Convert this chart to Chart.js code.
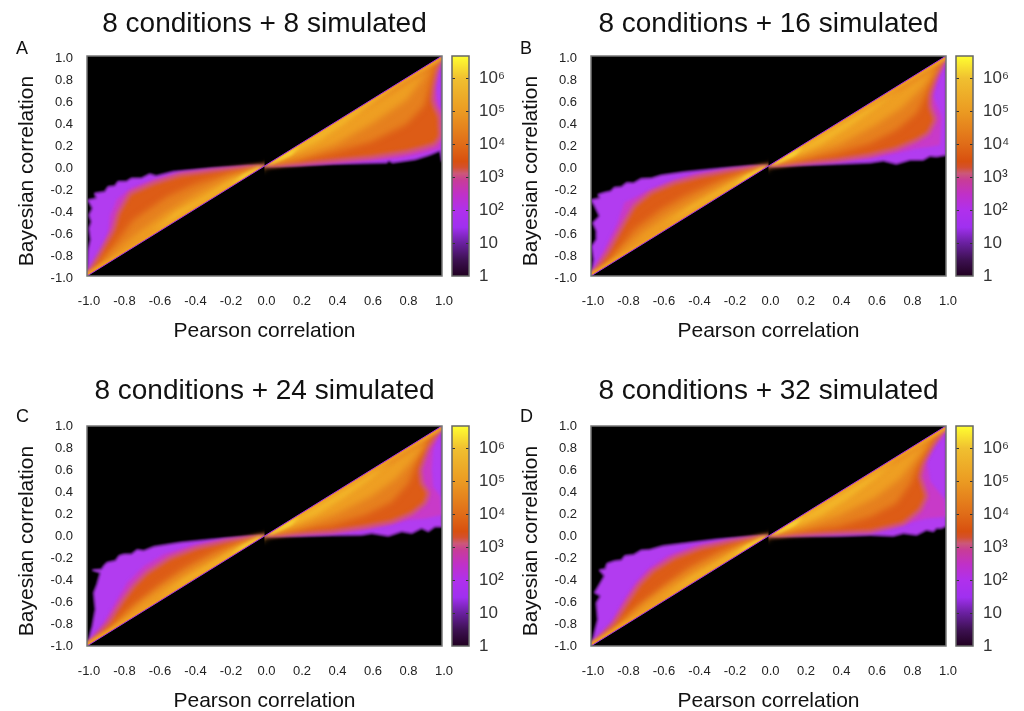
<!DOCTYPE html>
<html>
<head>
<meta charset="utf-8">
<title>Bayesian vs Pearson correlation</title>
<script src="https://cdn.jsdelivr.net/npm/chart.js@4"></script>
<style>
  html, body { margin: 0; padding: 0; background: #fff; overflow: hidden; }
  body { position: relative; width: 1024px; height: 711px; font-family: "Liberation Sans", sans-serif; }
  canvas { position: absolute; }
  .letter { position: absolute; font-size: 18px; color: #111; line-height: 20px; }
</style>
</head>
<body>
<script>
// density contours, [pearson, bayesian] going round each
// band: up the left edge, through the origin, out to the top right corner.
const aPurple = [[-1,-1],[-.993,-.76],[-.98,-.67],[-.989,-.567],[-.976,-.506],[-.989,-.445],[-.97,-.385],[-.985,-.34],[-.996,-.31],[-.947,-.294],[-.957,-.248],[-.9,-.233],[-.882,-.188],[-.844,-.182],[-.826,-.142],[-.779,-.142],[-.75,-.112],[-.694,-.112],[-.647,-.073],[-.61,-.09],[-.516,-.052],[-.288,-.02],[-.1,-.003],[0,0],[.16,.005],[.39,.02],[.55,.025],[.69,.03],[.7,.05],[.72,.03],[.85,.06],[.93,.1],[.99,.14],[1,.04],[1,1]];
const aMagenta = [[-1,-1],[-.92,-.78],[-.88,-.6],[-.87,-.45],[-.83,-.3],[-.75,-.2],[-.62,-.12],[-.48,-.065],[-.29,-.03],[-.1,-.005],[0,0],[.2,.012],[.4,.03],[.6,.05],[.75,.07],[.85,.1],[.93,.13],[.99,.16],[1,.3],[1,.5],[.98,.55],[.965,.7],[.975,.85],[1,1]];
const aRed = [[-1,-1],[-.85,-.58],[-.824,-.43],[-.758,-.25],[-.626,-.157],[-.476,-.08],[-.288,-.042],[-.1,-.008],[0,0],[.2,.02],[.4,.05],[.6,.08],[.8,.13],[.9,.17],[.96,.2],[.99,.27],[.985,.45],[.96,.53],[.945,.6],[.95,.72],[.97,.88],[1,1]];
const aOrange = [[-1,-1],[-.927,-.885],[-.74,-.49],[-.55,-.28],[-.38,-.157],[-.194,-.067],[0,0],[.2,.05],[.4,.13],[.6,.22],[.8,.38],[.9,.55],[.95,.85],[1,1]];
const aAmber = [[-.95,-.93],[-.72,-.62],[-.55,-.42],[-.4,-.27],[-.2,-.11],[0,0],[.2,.09],[.4,.2],[.6,.38],[.8,.6],[.93,.88]];
const aGold = [[-.65,-.62],[-.5,-.42],[-.35,-.29],[-.2,-.14],[-.05,-.02],[.1,.06],[.3,.22],[.45,.38],[.6,.56],[.75,.74]];
const aYellow = [[-.2,-.18],[-.12,-.08],[-.04,-.015],[0,0],[.05,.025],[.15,.1],[.2,.18]];

const bPurple = [[-1,-1],[-.985,-.85],[-.996,-.73],[-.97,-.667],[-.97,-.59],[-.99,-.515],[-.953,-.455],[-.98,-.364],[-1,-.31],[-.95,-.29],[-.96,-.26],[-.925,-.242],[-.89,-.23],[-.87,-.195],[-.83,-.19],[-.8,-.152],[-.76,-.155],[-.718,-.115],[-.66,-.112],[-.605,-.085],[-.474,-.055],[-.286,-.024],[-.1,0],[0,0],[.196,.01],[.384,.018],[.572,.03],[.647,.048],[.72,.018],[.797,.055],[.872,.055],[.91,.09],[.947,.085],[1,.1],[1,1]];
const bMagenta = [[-1,-1],[-.925,-.76],[-.85,-.515],[-.812,-.333],[-.7,-.242],[-.568,-.152],[-.417,-.076],[-.2,-.025],[0,0],[.384,.04],[.572,.07],[.72,.115],[.835,.16],[.91,.176],[.966,.19],[.975,.45],[.93,.63],[.947,.75],[.975,.87],[1,1]];
const bRed = [[-1,-1],[-.906,-.79],[-.812,-.515],[-.756,-.364],[-.662,-.242],[-.53,-.152],[-.38,-.09],[-.23,-.045],[0,0],[.384,.055],[.572,.1],[.72,.16],[.835,.236],[.9,.3],[.938,.42],[.91,.54],[.91,.66],[.947,.84],[1,1]];
const bOrange = [[-1,-1],[-.906,-.88],[-.756,-.576],[-.605,-.394],[-.474,-.273],[-.286,-.136],[-.137,-.055],[0,0],[.196,.055],[.384,.115],[.572,.206],[.72,.327],[.835,.48],[.89,.66],[.93,.81],[1,1]];
const bAmber = [[-.92,-.9],[-.7,-.6],[-.55,-.43],[-.4,-.29],[-.2,-.125],[-.05,-.02],[0,0],[.2,.09],[.4,.2],[.6,.37],[.75,.53],[.87,.72],[.95,.9]];
const bGold = [[-.6,-.56],[-.45,-.38],[-.3,-.24],[-.15,-.1],[-.03,-.012],[.1,.055],[.3,.2],[.45,.35],[.6,.52],[.75,.7]];
const bYellow = [[-.2,-.18],[-.12,-.085],[-.04,-.015],[0,0],[.05,.02],[.15,.1],[.2,.18]];

const cPurple = [[-1,-1],[-.985,-.91],[-.97,-.82],[-.953,-.667],[-.962,-.515],[-.944,-.44],[-.925,-.333],[-.97,-.31],[-.92,-.305],[-.9,-.26],[-.887,-.242],[-.84,-.225],[-.82,-.18],[-.793,-.167],[-.75,-.165],[-.718,-.125],[-.68,-.135],[-.624,-.097],[-.474,-.06],[-.286,-.03],[-.1,-.006],[0,0],[.19,0],[.378,.006],[.547,.009],[.604,.024],[.698,0],[.773,.04],[.83,.024],[.885,.07],[.923,.04],[.96,.085],[1,.085],[1,1]];
const cMagenta = [[-1,-1],[-.906,-.79],[-.83,-.576],[-.774,-.424],[-.68,-.273],[-.568,-.167],[-.417,-.09],[-.23,-.03],[0,0],[.378,.024],[.566,.06],[.698,.1],[.81,.145],[.904,.16],[1,.19],[.99,.36],[.95,.45],[.942,.6],[.95,.78],[.99,.96],[1,1]];
const cRed = [[-1,-1],[-.878,-.79],[-.8,-.59],[-.737,-.455],[-.662,-.333],[-.53,-.197],[-.38,-.106],[-.21,-.045],[0,0],[.378,.04],[.566,.085],[.716,.13],[.83,.206],[.904,.3],[.923,.39],[.885,.48],[.876,.6],[.923,.81],[1,1]];
const cOrange = [[-1,-1],[-.897,-.88],[-.746,-.636],[-.605,-.455],[-.455,-.288],[-.286,-.145],[-.137,-.055],[0,0],[.378,.1],[.566,.19],[.716,.31],[.81,.48],[.848,.63],[.904,.84],[1,1]];
const cAmber = [[-.9,-.89],[-.7,-.62],[-.55,-.45],[-.4,-.3],[-.2,-.13],[-.05,-.02],[0,0],[.2,.085],[.4,.2],[.6,.36],[.74,.52],[.84,.7],[.93,.88]];
const cGold = [[-.6,-.57],[-.45,-.39],[-.3,-.25],[-.15,-.1],[-.03,-.012],[.1,.055],[.3,.2],[.45,.35],[.6,.52],[.72,.68]];
const cYellow = [[-.2,-.18],[-.12,-.085],[-.04,-.015],[0,0],[.05,.02],[.15,.1],[.2,.18]];

const dPurple = [[-1,-1],[-.985,-.91],[-.962,-.76],[-.97,-.606],[-.947,-.545],[-.98,-.515],[-.925,-.364],[-.953,-.31],[-.92,-.3],[-.91,-.25],[-.868,-.227],[-.83,-.22],[-.81,-.18],[-.76,-.17],[-.718,-.13],[-.67,-.125],[-.596,-.09],[-.474,-.067],[-.286,-.03],[-.1,-.006],[0,0],[.196,0],[.384,0],[.572,.009],[.703,0],[.76,.024],[.835,.009],[.89,.055],[.93,.04],[.947,.07],[.975,.07],[1,.09],[1,1]];
const dMagenta = [[-1,-1],[-.887,-.79],[-.812,-.576],[-.756,-.44],[-.68,-.303],[-.568,-.18],[-.417,-.09],[-.23,-.036],[0,0],[.572,.04],[.72,.085],[.816,.13],[.89,.16],[1,.176],[.994,.33],[.91,.5],[.89,.69],[.93,.81],[1,.96],[1,1]];
const dRed = [[-1,-1],[-.868,-.79],[-.784,-.576],[-.727,-.44],[-.652,-.318],[-.53,-.197],[-.38,-.106],[-.21,-.048],[0,0],[.572,.04],[.76,.115],[.853,.236],[.89,.36],[.853,.54],[.87,.66],[.93,.84],[1,1]];
const dOrange = [[-1,-1],[-.887,-.88],[-.737,-.636],[-.596,-.455],[-.455,-.288],[-.286,-.145],[-.137,-.055],[0,0],[.384,.085],[.572,.176],[.72,.297],[.8,.48],[.84,.63],[.9,.81],[1,1]];
const dAmber = [[-.9,-.89],[-.7,-.62],[-.55,-.45],[-.4,-.3],[-.2,-.13],[-.05,-.02],[0,0],[.2,.08],[.4,.19],[.6,.35],[.74,.52],[.83,.7],[.92,.88]];
const dGold = [[-.6,-.57],[-.45,-.39],[-.3,-.25],[-.15,-.1],[-.03,-.012],[.1,.05],[.3,.19],[.45,.34],[.6,.52],[.72,.68]];
const dYellow = [[-.2,-.18],[-.12,-.085],[-.04,-.015],[0,0],[.05,.02],[.15,.1],[.2,.18]];

const diagonal = [[-1,-1],[1,1]];
// warm rim just inside the diagonal, broken around the origin where the fan pinches
const rim = [[-1,-1],[-.1,-.1],[0,null],[.1,.1],[1,1]];
// the empty triangles either side of the fan, painted back over the soft band edges
const emptyAbove = [[0,0],[1,1],[0,1]];
const emptyBelow = [[-1,-1],[0,0],[0,-1]];

const bandColors = ['#b23cf0', '#c83ac8', '#dd5c16', '#e6801e', '#ee9e22', '#f2b428', '#f8d838'];
const bandBlur = [0.8, 1.4, 2, 3, 3, 2, 1.5];
const diagonalColor = '#a832e0';
const redEdgeColor = '#d2607a';

const tickValues = [-1, -.8, -.6, -.4, -.2, 0, .2, .4, .6, .8, 1];
const tickLabels = ['-1.0', '-0.8', '-0.6', '-0.4', '-0.2', '0.0', '0.2', '0.4', '0.6', '0.8', '1.0'];

const cbMax = 4.7e6;
const cbTickValues = [1, 10, 100, 1000, 10000, 100000, 1000000];
const cbTickLabels = ['1', '10', '10²', '10³', '10⁴', '10⁵', '10⁶'];
const cbStopValues = [1, 3, 10, 30, 100, 300, 800, 1300, 2000, 3000, 10000, 100000, 1000000, 4700000];
const cbStopColors = ['#200020', '#3c1050', '#6a20a0', '#a030f0', '#b030ec', '#c030c8', '#c83c98', '#cc5878', '#d4502c', '#d8500f', '#e06c18', '#eb9b22', '#f0c030', '#ffff30'];

const panelTitles = ['8 conditions + 8 simulated', '8 conditions + 16 simulated', '8 conditions + 24 simulated', '8 conditions + 32 simulated'];
const panelLetters = ['A', 'B', 'C', 'D'];
const panelBands = [
  [aPurple, aMagenta, aRed, aOrange, aAmber, aGold, aYellow],
  [bPurple, bMagenta, bRed, bOrange, bAmber, bGold, bYellow],
  [cPurple, cMagenta, cRed, cOrange, cAmber, cGold, cYellow],
  [dPurple, dMagenta, dRed, dOrange, dAmber, dGold, dYellow]
];

const toPoints = (pairs) => pairs.map(([x, y]) => ({ x, y }));
const textColor = '#222';
const frameColor = '#777';
const blurOf = (ds) => 'blur(' + ds.blurPx + 'px)';

// black plot area, per-dataset blur (the source is a soft bitmap), grey frame
const heatmapLook = {
  id: 'heatmapLook',
  beforeDatasetsDraw(chart) {
    const { ctx, chartArea: a, data } = chart;
    ctx.save();
    ctx.fillStyle = '#000';
    ctx.fillRect(a.left, a.top, a.width, a.height);
    ctx.filter = blurOf(data.datasets[data.datasets.length - 1]);
  },
  afterDatasetDraw(chart, args) {
    // datasets paint from last to first
    if (args.index > 0) chart.ctx.filter = blurOf(chart.data.datasets[args.index - 1]);
  },
  afterDatasetsDraw(chart) {
    const { ctx, chartArea: a } = chart;
    ctx.restore();
    ctx.strokeStyle = frameColor;
    ctx.lineWidth = 1.5;
    ctx.strokeRect(a.left, a.top, a.width, a.height);
  }
};

const colorbarFrame = {
  id: 'colorbarFrame',
  afterDatasetsDraw(chart) {
    const { ctx, chartArea: a, scales } = chart;
    ctx.save();
    ctx.strokeStyle = '#333';
    ctx.lineWidth = 1;
    cbTickValues.slice(1).forEach((v) => {
      const py = Math.round(scales.y.getPixelForValue(v)) + 0.5;
      ctx.beginPath();
      ctx.moveTo(a.left, py); ctx.lineTo(a.left + 3, py);
      ctx.moveTo(a.right - 3, py); ctx.lineTo(a.right, py);
      ctx.stroke();
    });
    ctx.strokeStyle = '#666';
    ctx.lineWidth = 1.5;
    ctx.strokeRect(a.left, a.top, a.width, a.height);
    ctx.restore();
  }
};

function addCanvas(left, top, width, height) {
  const c = document.createElement('canvas');
  c.width = width;
  c.height = height;
  c.style.left = left + 'px';
  c.style.top = top + 'px';
  c.style.width = width + 'px';
  c.style.height = height + 'px';
  document.body.appendChild(c);
  return c.getContext('2d');
}

function bandLayer(i, pairs) {
  const edged = i === 0 || i === 2;
  return {
    data: toPoints(pairs), showLine: true, fill: 'shape', pointRadius: 0,
    backgroundColor: bandColors[i], blurPx: bandBlur[i],
    borderWidth: edged ? (i === 0 ? 1 : 2) : 0,
    borderColor: i === 0 ? bandColors[0] : redEdgeColor
  };
}

function panelLayers(bands) {
  // paint order, outermost first
  const layers = [];
  for (let i = 0; i < 4; i++) layers.push(bandLayer(i, bands[i]));
  layers.push({ data: toPoints(rim), showLine: true, fill: false, pointRadius: 0, borderColor: bandColors[4], borderWidth: 7, blurPx: 1.5 });
  for (let i = 4; i < bands.length; i++) layers.push(bandLayer(i, bands[i]));
  [emptyAbove, emptyBelow].forEach((tri) => {
    layers.push({ data: toPoints(tri), showLine: true, fill: 'shape', pointRadius: 0, backgroundColor: '#000', borderWidth: 0, blurPx: 0.4 });
  });
  layers.push({ data: toPoints(diagonal), showLine: true, fill: false, pointRadius: 0, borderColor: diagonalColor, borderWidth: 1, blurPx: 0.4 });
  return layers.reverse();
}

function renderPanel(index, left, top, titleTop, yLabelShift) {
  const width = 456, height = 350;
  const ctx = addCanvas(left, top, width, height);
  new Chart(ctx, {
    type: 'scatter',
    data: { datasets: panelLayers(panelBands[index]) },
    plugins: [heatmapLook],
    options: {
      responsive: false,
      animation: false,
      layout: { padding: { right: 14 } },
      plugins: {
        legend: { display: false },
        tooltip: { enabled: false },
        title: {
          display: true, text: panelTitles[index], fullSize: false,
          color: '#111', font: { family: '"Liberation Sans"', size: 28, weight: 'normal', lineHeight: 1.2 },
          padding: { top: titleTop, bottom: 56 - 33.6 - titleTop }
        }
      },
      scales: {
        x: {
          type: 'linear', min: -1, max: 1,
          grid: { display: false, drawTicks: false },
          border: { display: false },
          afterBuildTicks: (s) => { s.ticks = tickValues.map((value) => ({ value })); },
          afterFit: (s) => { s.height = 74; s.paddingLeft = 0; s.paddingRight = 0; },
          ticks: {
            autoSkip: false, maxRotation: 0, padding: 18, labelOffset: 2, color: textColor,
            font: { family: '"Liberation Sans"', size: 13 },
            callback: (v, i) => tickLabels[i]
          },
          title: {
            display: true, text: 'Pearson correlation', color: '#111',
            font: { family: '"Liberation Sans"', size: 21 }, padding: { top: 0, bottom: 6 }
          }
        },
        y: {
          type: 'linear', min: -1, max: 1,
          grid: { display: false, drawTicks: false },
          border: { display: false },
          afterBuildTicks: (s) => { s.ticks = tickValues.map((value) => ({ value })); },
          afterFit: (s) => {
            s.width = 87; s.paddingTop = 0; s.paddingBottom = 0;
            // the source's axis title sits 5px under the axis middle
            if (!s.titleMoved) {
              const drawTitle = s.drawTitle;
              s.drawTitle = function () {
                s.ctx.save();
                s.ctx.translate(0, 5);
                drawTitle.call(s);
                s.ctx.restore();
              };
              s.titleMoved = true;
            }
          },
          ticks: {
            autoSkip: false, padding: 14, labelOffset: yLabelShift, color: textColor,
            font: { family: '"Liberation Sans"', size: 13 },
            callback: (v, i) => tickLabels[i]
          },
          title: {
            display: true, text: 'Bayesian correlation', color: '#111',
            font: { family: '"Liberation Sans"', size: 21 }, padding: { top: 15, bottom: 0 }
          }
        }
      }
    }
  });
}

function colorbarGradient(context) {
  const { chart } = context;
  const { ctx, scales, chartArea } = chart;
  if (!chartArea) return cbStopColors[0];
  const y = scales.y;
  const g = ctx.createLinearGradient(0, chartArea.bottom, 0, chartArea.top);
  cbStopValues.forEach((v, i) => {
    const pos = (chartArea.bottom - y.getPixelForValue(v)) / chartArea.height;
    g.addColorStop(Math.min(1, Math.max(0, pos)), cbStopColors[i]);
  });
  return g;
}

function renderColorbar(left, top) {
  const width = 66, height = 300;
  const ctx = addCanvas(left, top, width, height);
  new Chart(ctx, {
    type: 'bar',
    data: { labels: [''], datasets: [{ data: [cbMax], backgroundColor: colorbarGradient, barPercentage: 1, categoryPercentage: 1 }] },
    plugins: [colorbarFrame],
    options: {
      responsive: false,
      animation: false,
      layout: { padding: { left: 7, top: 56, bottom: height - 276 } },
      plugins: { legend: { display: false }, tooltip: { enabled: false } },
      scales: {
        x: { display: false },
        y: {
          type: 'logarithmic', position: 'right', min: 1, max: cbMax,
          grid: { display: false, drawTicks: false },
          border: { display: false },
          afterBuildTicks: (s) => { s.ticks = cbTickValues.map((value) => ({ value, major: true })); },
          afterFit: (s) => { s.width = width - 24; },
          ticks: {
            autoSkip: false, padding: 10, color: '#333',
            font: { family: '"Liberation Sans"', size: 17 },
            callback: (v, i) => cbTickLabels[i]
          }
        }
      }
    }
  });
}

function addLetter(text, left, top) {
  const d = document.createElement('div');
  d.className = 'letter';
  d.textContent = text;
  d.style.left = left + 'px';
  d.style.top = top + 'px';
  document.body.appendChild(d);
}

const panelLeft = [0, 504, 0, 504];
const panelTop = [0, 0, 370, 370];
const panelTitleTop = [7, 7, 4, 4];
const panelLabelShift = [2, 2, 0, 0];
const letterLeft = [16, 520, 16, 520];
const letterTop = [38, 38, 406, 406];

panelTitles.forEach((t, i) => {
  renderPanel(i, panelLeft[i], panelTop[i], panelTitleTop[i], panelLabelShift[i]);
  renderColorbar(panelLeft[i] + 445, panelTop[i]);
  addLetter(panelLetters[i], letterLeft[i], letterTop[i]);
});
</script>
</body>
</html>
